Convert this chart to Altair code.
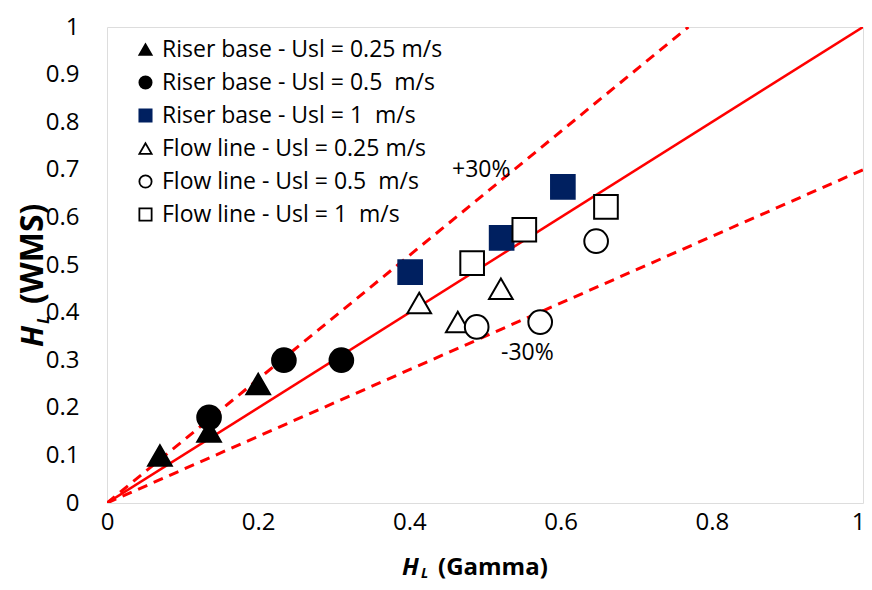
import altair as alt
import pandas as pd

# ---- data ----
series_names = [
    "Riser base - Usl = 0.25 m/s",
    "Riser base - Usl = 0.5\u00a0 m/s",
    "Riser base - Usl = 1\u00a0 m/s",
    "Flow line - Usl = 0.25 m/s",
    "Flow line - Usl = 0.5\u00a0 m/s",
    "Flow line - Usl = 1\u00a0 m/s",
]
rb025_x = [0.07, 0.135, 0.20]
rb025_y = [0.10, 0.15, 0.25]
rb05_x = [0.135, 0.234, 0.310]
rb05_y = [0.18, 0.30, 0.30]
rb1_x = [0.401, 0.522, 0.603]
rb1_y = [0.485, 0.557, 0.664]
fl025_x = [0.413, 0.464, 0.521]
fl025_y = [0.42, 0.38, 0.45]
fl05_x = [0.489, 0.573, 0.647]
fl05_y = [0.37, 0.38, 0.55]
fl1_x = [0.483, 0.552, 0.660]
fl1_y = [0.504, 0.574, 0.622]

series_shapes = ["triangle-up", "circle", "square", "triangle-up", "circle", "square"]
series_fills = ["black", "black", "#002060", "white", "white", "white"]
series_strokes = ["black", "black", "#002060", "black", "black", "black"]

# reference lines (endpoints)
line_names = ["1:1", "+30%", "-30%"]
line_x = [[0, 1], [0, 0.769], [0, 1]]
line_y = [[0, 1], [0, 1.0], [0, 0.7]]

x_ticks = [0, 0.2, 0.4, 0.6, 0.8, 1]
y_ticks = [0, 0.1, 0.2, 0.3, 0.4, 0.5, 0.6, 0.7, 0.8, 0.9, 1]

ann_text = ["+30%", "-30%"]
ann_x = [0.495, 0.556]
ann_y = [0.685, 0.30]

# ---- tables ----
xs = [rb025_x, rb05_x, rb1_x, fl025_x, fl05_x, fl1_x]
ys = [rb025_y, rb05_y, rb1_y, fl025_y, fl05_y, fl1_y]
rows = []
for name, sx, sy in zip(series_names, xs, ys):
    for a, b in zip(sx, sy):
        rows.append({"series": name, "x": a, "y": b})
pts = pd.DataFrame(rows)

lrows = []
for n, lx, ly in zip(line_names, line_x, line_y):
    for a, b in zip(lx, ly):
        lrows.append({"line": n, "x": a, "y": b})
lines = pd.DataFrame(lrows)
ann = pd.DataFrame({"t": ann_text, "x": ann_x, "y": ann_y})

W, H = 756, 476
FONT = "Open Sans"

xs_scale = alt.Scale(domain=[0, 1], nice=False)
ys_scale = alt.Scale(domain=[0, 1], nice=False)

x_enc = alt.X("x:Q", scale=xs_scale,
              axis=alt.Axis(values=x_ticks, title=None, grid=False, ticks=False,
                            domain=False, labelFontSize=24, labelFont=FONT,
                            labelColor="black", labelPadding=7, labelFlush=False,
                            labelAlign=alt.condition(alt.datum.value == 1,
                                                     alt.value("right"), alt.value("center")),
                            labelOffset=alt.condition(alt.datum.value == 1,
                                                      alt.value(2), alt.value(0)),
                            format="~g"))
y_enc = alt.Y("y:Q", scale=ys_scale,
              axis=alt.Axis(values=y_ticks, title=None, grid=False, ticks=False,
                            domain=False, labelFontSize=24, labelFont=FONT,
                            labelColor="black", labelPadding=28, labelFlush=False,
                            format="~g"))

solid = alt.Chart(lines).transform_filter(alt.datum.line == "1:1").mark_line(
    color="#ff0000", strokeWidth=2.5, clip=True
).encode(x=x_enc, y=y_enc, detail="line:N")

dashed = alt.Chart(lines).transform_filter(alt.datum.line != "1:1").mark_line(
    color="#ff0000", strokeWidth=3, strokeDash=[10, 7], clip=True
).encode(x="x:Q", y="y:Q", detail="line:N")

points = alt.Chart(pts).mark_point(filled=True, size=560, strokeWidth=2, opacity=1).encode(
    x="x:Q",
    y="y:Q",
    shape=alt.Shape("series:N", scale=alt.Scale(domain=series_names, range=series_shapes),
                    legend=alt.Legend(title=None, orient="none", legendX=27, legendY=11,
                                      labelFont=FONT, labelFontSize=23, labelColor="black",
                                      symbolSize=150, symbolStrokeWidth=1.8,
                                      rowPadding=9, labelOffset=5, labelLimit=500,
                                      symbolOpacity=1)),
    fill=alt.Fill("series:N", scale=alt.Scale(domain=series_names, range=series_fills)),
    stroke=alt.Stroke("series:N", scale=alt.Scale(domain=series_names, range=series_strokes)),
)

annot = alt.Chart(ann).mark_text(font=FONT, fontSize=23, color="black", align="center",
                                 baseline="alphabetic").encode(x="x:Q", y="y:Q", text="t:N")

def txt(t, x, y, size, italic=False, angle=0, align="left"):
    return alt.Chart(alt.Data(values=[{"t": t}])).mark_text(
        font=FONT, fontSize=size, fontWeight="bold",
        fontStyle="italic" if italic else "normal",
        color="black", align=align, baseline="alphabetic", angle=angle
    ).encode(x=alt.value(x), y=alt.value(y), text="t:N")

xt_H = txt("H", 295, 548, 24, italic=True)
xt_L = txt("L", 314, 551, 14, italic=True)
xt_r = txt("(Gamma)", 331, 548, 24)

yt_H = txt("H", -64, 320, 30, italic=True, angle=270)
yt_L = txt("L", -58, 297, 16, italic=True, angle=270)
yt_r = txt("(WMS)", -64, 277, 32, angle=270)

chart = alt.layer(solid, dashed, points, annot, xt_H, xt_L, xt_r, yt_H, yt_L, yt_r).properties(
    width=W, height=H,
    autosize=alt.AutoSizeParams(type="none"),
    padding={"left": 99, "top": 19, "right": 1, "bottom": 79},
).configure_view(stroke="black", strokeWidth=2).configure(background="white")

chart.save("out.html", embed_options={"renderer": "svg", "actions": False})
